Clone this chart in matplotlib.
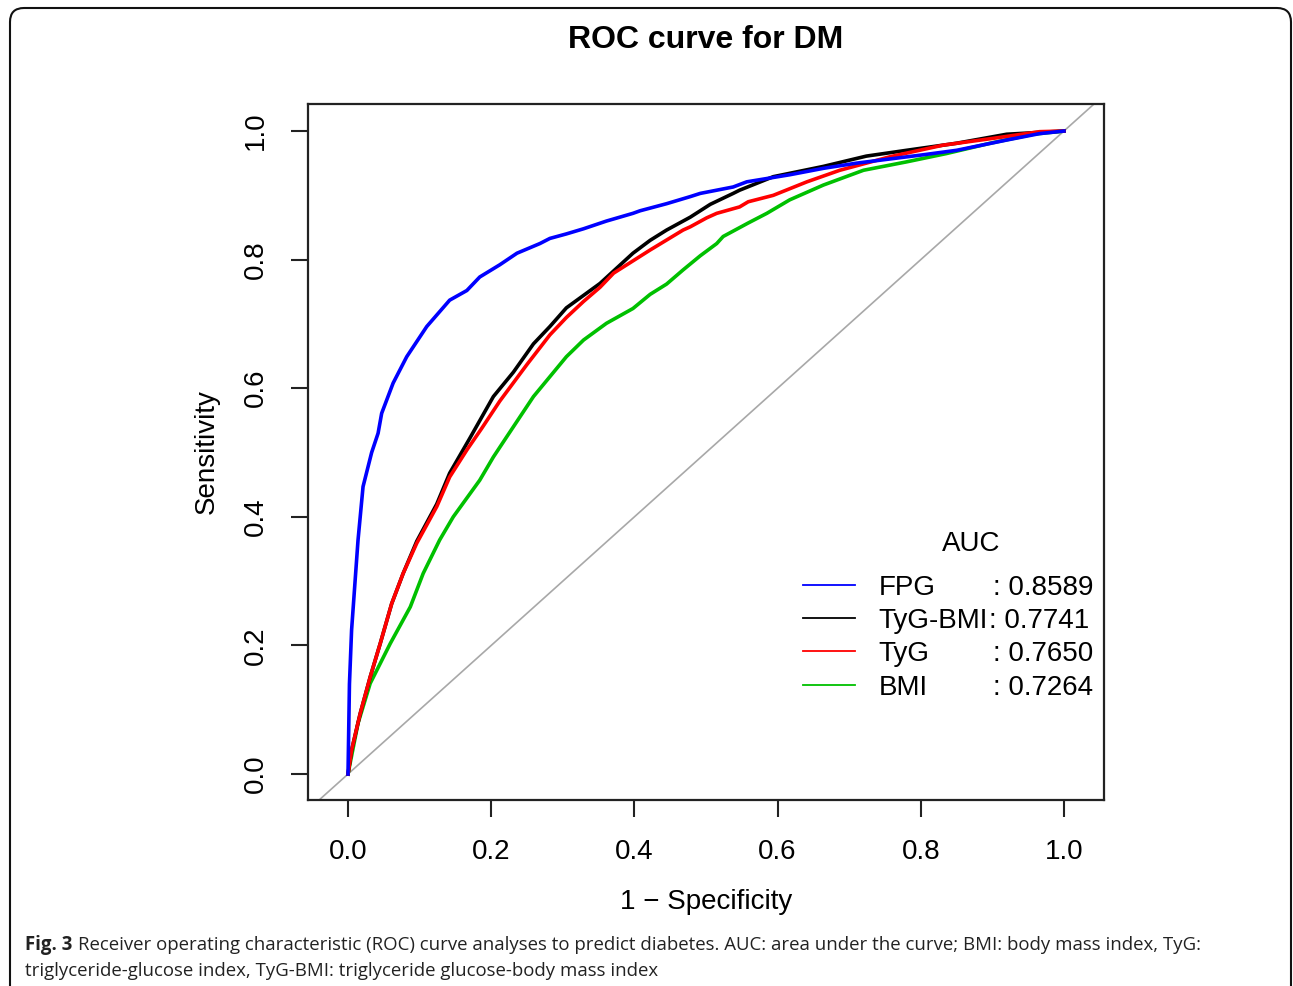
import matplotlib
matplotlib.use('Agg')
import matplotlib.pyplot as plt
from matplotlib.patches import FancyBboxPatch
from matplotlib.transforms import IdentityTransform

# ROC curve points (1 - specificity, sensitivity)
fpg_fpr = [0, 0.002, 0.005, 0.010, 0.014, 0.021, 0.033, 0.042, 0.047, 0.063, 0.082, 0.110,
           0.142, 0.166, 0.184, 0.212, 0.236, 0.268, 0.282, 0.305, 0.329, 0.361, 0.398, 0.408,
           0.445, 0.478, 0.492, 0.538, 0.557, 0.617, 0.664, 0.710, 0.803, 0.850, 0.920, 0.966, 1.0]
fpg_tpr = [0, 0.140, 0.224, 0.302, 0.364, 0.447, 0.500, 0.530, 0.561, 0.608, 0.649, 0.696,
           0.737, 0.752, 0.773, 0.792, 0.810, 0.825, 0.833, 0.840, 0.848, 0.860, 0.872, 0.876,
           0.887, 0.898, 0.903, 0.913, 0.921, 0.932, 0.942, 0.950, 0.963, 0.970, 0.986, 0.996, 1.0]

tygbmi_fpr = [0, 0.005, 0.017, 0.031, 0.045, 0.061, 0.077, 0.096, 0.124, 0.142, 0.170, 0.203,
              0.231, 0.259, 0.282, 0.305, 0.352, 0.398, 0.422, 0.445, 0.478, 0.492, 0.506, 0.538,
              0.547, 0.594, 0.664, 0.724, 0.780, 0.850, 0.920, 1.0]
tygbmi_tpr = [0, 0.037, 0.094, 0.151, 0.203, 0.265, 0.312, 0.362, 0.420, 0.468, 0.522, 0.587,
              0.625, 0.669, 0.696, 0.725, 0.763, 0.810, 0.830, 0.846, 0.866, 0.876, 0.886, 0.903,
              0.908, 0.929, 0.945, 0.961, 0.970, 0.981, 0.995, 1.0]

tyg_fpr = [0, 0.005, 0.017, 0.031, 0.045, 0.061, 0.077, 0.096, 0.124, 0.142, 0.166, 0.187,
           0.212, 0.250, 0.282, 0.305, 0.329, 0.352, 0.371, 0.422, 0.468, 0.478, 0.501, 0.515,
           0.547, 0.559, 0.594, 0.641, 0.687, 0.757, 0.831, 0.897, 0.966, 1.0]
tyg_tpr = [0, 0.037, 0.094, 0.151, 0.203, 0.265, 0.312, 0.359, 0.416, 0.462, 0.504, 0.538,
           0.580, 0.637, 0.683, 0.710, 0.735, 0.757, 0.779, 0.815, 0.846, 0.851, 0.865, 0.872,
           0.882, 0.890, 0.900, 0.921, 0.939, 0.960, 0.978, 0.988, 0.999, 1.0]

bmi_fpr = [0, 0.003, 0.014, 0.031, 0.059, 0.087, 0.105, 0.128, 0.147, 0.184, 0.203, 0.222,
           0.259, 0.282, 0.305, 0.329, 0.361, 0.398, 0.422, 0.445, 0.468, 0.492, 0.515, 0.524,
           0.559, 0.585, 0.617, 0.664, 0.720, 0.780, 0.836, 0.897, 0.957, 1.0]
bmi_tpr = [0, 0.017, 0.079, 0.141, 0.203, 0.260, 0.312, 0.364, 0.400, 0.457, 0.493, 0.525,
           0.587, 0.618, 0.649, 0.675, 0.701, 0.724, 0.746, 0.762, 0.784, 0.806, 0.825, 0.836,
           0.857, 0.872, 0.893, 0.916, 0.939, 0.952, 0.965, 0.981, 0.995, 1.0]

names = ['FPG', 'TyG-BMI', 'TyG', 'BMI']
aucs = ['0.8589', '0.7741', '0.7650', '0.7264']
colors = ['#0000FF', '#000000', '#FF0000', '#00C000']
ticks = [0.0, 0.2, 0.4, 0.6, 0.8, 1.0]

plt.rcParams['font.family'] = ['Liberation Sans', 'DejaVu Sans']

fig = plt.figure(figsize=(12.93, 9.86), dpi=100)
ax = fig.add_axes([0.2382, 0.1886, 0.6156, 0.7059])

# chance line
ax.plot([-0.1, 1.1], [-0.1, 1.1], color='#A8A8A8', lw=1.2, zorder=1)

curves = [(fpg_fpr, fpg_tpr), (tygbmi_fpr, tygbmi_tpr), (tyg_fpr, tyg_tpr), (bmi_fpr, bmi_tpr)]
zorders = [5, 3, 4, 2]
for (x, y), c, z in zip(curves, colors, zorders):
    ax.plot(x, y, color=c, lw=2.6, zorder=z, solid_joinstyle='round')

ax.set_xlim(-0.0559, 1.0559)
ax.set_ylim(-0.0404, 1.042)
ax.set_xticks(ticks)
ax.set_yticks(ticks)
ax.set_xticklabels([f'{t:.1f}' for t in ticks])
ax.set_yticklabels([f'{t:.1f}' for t in ticks])
ax.tick_params(direction='out', length=12, width=1.5, labelsize=20, pad=16, color='#222222')
for lab in ax.get_yticklabels():
    lab.set_rotation(90)
    lab.set_va('center')
for s in ax.spines.values():
    s.set_linewidth(1.6)
    s.set_color('#222222')

ax.set_xlabel('1 \u2212 Specificity', fontsize=20, labelpad=17)
ax.set_ylabel('Sensitivity', fontsize=20, labelpad=17)
ax.set_title('ROC curve for DM', fontsize=23, fontweight='bold', pad=40)

# legend drawn by hand, R style
ax.text(0.833, 0.368, 'AUC', transform=ax.transAxes, fontsize=20, ha='center', va='center')
rows_y = [0.305, 0.2575, 0.210, 0.161]
for yy, n, a, c in zip(rows_y, names, aucs, colors):
    ax.plot([0.622, 0.687], [yy + 0.004, yy + 0.004], transform=ax.transAxes, color=c, lw=1.3,
            clip_on=False)
    ax.text(0.717, yy, n, transform=ax.transAxes, fontsize=20, ha='left', va='center')
    cx = 0.855 if n == 'TyG-BMI' else 0.861
    ax.text(cx, yy, ': ' + a, transform=ax.transAxes, fontsize=20, ha='left', va='center')

# rounded frame of the figure panel
frame = FancyBboxPatch((10, -30), 1281, 986 - 8 + 30, boxstyle='round,pad=0,rounding_size=14',
                       transform=IdentityTransform(), fill=False, lw=1.5, ec='#111111')
fig.add_artist(frame)

# caption
cap_font = ['Open Sans', 'DejaVu Sans']
fig.canvas.draw()
r = fig.canvas.get_renderer()
t1 = fig.text(25 / 1293, 1 - 950 / 986, 'Fig. 3', fontsize=13.4, fontweight='bold',
              family=cap_font, color='#222222', va='baseline')
bb = t1.get_window_extent(renderer=r)
fig.text((bb.x1 + 6) / 1293, 1 - 950 / 986,
         'Receiver operating characteristic (ROC) curve analyses to predict diabetes. AUC: area '
         'under the curve; BMI: body mass index, TyG:',
         fontsize=13.4, family=cap_font, color='#222222', va='baseline')
fig.text(25 / 1293, 1 - 976 / 986,
         'triglyceride-glucose index, TyG-BMI: triglyceride glucose-body mass index',
         fontsize=13.4, family=cap_font, color='#222222', va='baseline')

fig.savefig('out.png', dpi=100)
